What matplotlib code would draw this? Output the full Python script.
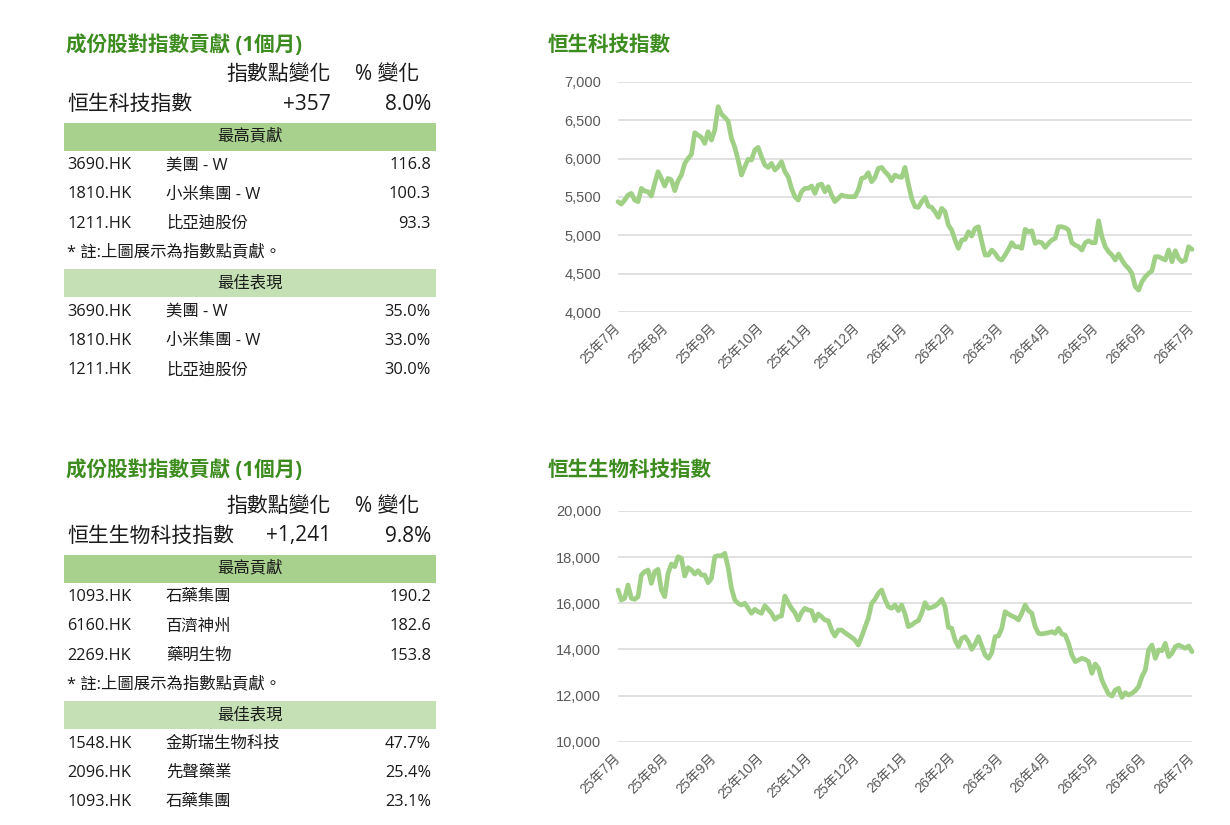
import matplotlib
matplotlib.use("Agg")
import matplotlib.pyplot as plt
from matplotlib.patches import Rectangle
import numpy as np

plt.rcParams['font.family'] = ['Open Sans', 'Noto Sans CJK TC', 'DejaVu Sans']

# ---------------- data ----------------
month_labels = ["25年7月", "25年8月", "25年9月", "25年10月", "25年11月", "25年12月",
                "26年1月", "26年2月", "26年3月", "26年4月", "26年5月", "26年6月", "26年7月"]

hstech = [
    5439, 5408, 5460, 5525, 5547, 5460, 5439, 5612, 5577, 5569,
    5512, 5677, 5829, 5742, 5643, 5742, 5721, 5582, 5712, 5786,
    5937, 6002, 6054, 6336, 6306, 6276, 6198, 6349, 6241, 6371,
    6675, 6579, 6536, 6488, 6263, 6146, 5981, 5786, 5894, 5990,
    5981, 6111, 6146, 6024, 5916, 5885, 5937, 5851, 5894, 5959,
    5829, 5764, 5612, 5504, 5460, 5569, 5612, 5612, 5643, 5547,
    5655, 5668, 5569, 5634, 5525, 5439, 5482, 5525, 5512, 5504,
    5504, 5504, 5590, 5742, 5755, 5816, 5699, 5755, 5872,
    5885, 5829, 5786, 5712, 5786, 5764, 5755, 5885, 5668, 5482,
    5374, 5365, 5439, 5495, 5382, 5365, 5309, 5235, 5352, 5309,
    5135, 5070, 4940, 4832, 4940, 4949, 5048, 4992, 5092, 5113,
    4918, 4745, 4745, 4810, 4767, 4701, 4680, 4745, 4818, 4905,
    4853, 4853, 4832, 5079, 5048, 5061, 4897, 4918, 4905, 4844,
    4897, 4940, 4962, 5113, 5113, 5100, 5070, 4905, 4875, 4853,
    4810, 4905, 4931, 4905, 4905, 5191, 4983, 4853, 4788, 4745,
    4680, 4758, 4680, 4615, 4571, 4506, 4333, 4289, 4398, 4463,
    4506, 4541, 4723, 4723, 4701, 4680, 4810, 4658, 4801, 4701,
    4658, 4680, 4853, 4818,
]

hsbio = [
    16575, 16142, 16214, 16792, 16214, 16171, 16286, 17226, 17370, 17442,
    16864, 17370, 17471, 16575, 16286, 17298, 17702, 17587, 18020, 17948,
    17182, 17544, 17442, 17269, 17413, 17226, 17226, 16893, 17081, 18020,
    18064, 18049, 18165, 17558, 16648, 16142, 15998, 15925, 15998, 15781,
    15564, 15737, 15636, 15564, 15896, 15737, 15564, 15304, 15419, 15448,
    16315, 16026, 15781, 15593, 15275, 15593, 15781, 15708, 15679, 15246,
    15535, 15419, 15275, 15246, 14841, 14581, 14841, 14841, 14726, 14625,
    14524, 14408, 14191, 14552, 14957, 15347, 15998, 16171, 16431,
    16575, 16171, 15853, 15781, 15925, 15680, 15925, 15535, 14986, 15058,
    15174, 15246, 15564, 16026, 15781, 15824, 15882, 15998, 16171, 15853,
    14957, 14914, 14408, 14119, 14480, 14552, 14336, 14003, 14234, 14552,
    14148, 13758, 13613, 13859, 14552, 14581, 14914, 15636, 15535, 15448,
    15390, 15275, 15564, 15925, 15680, 15564, 14986, 14697, 14668, 14697,
    14726, 14769, 14697, 14914, 14668, 14625, 14263, 13758, 13469, 13541,
    13613, 13570, 13469, 12963, 13368, 13180, 12674, 12356, 12067, 11980,
    12240, 12313, 11922, 12125, 12024, 12096, 12211, 12385, 12819, 13107,
    13974, 14191, 13613, 13974, 13945, 14263, 13685, 13830, 14119, 14191,
    14119, 14047, 14148, 13902,
]

tables = [
    dict(title="成份股對指數貢獻 (1個月)", index_name="恒生科技指數", pts="+357", pct="8.0%",
         top_codes=["3690.HK", "1810.HK", "1211.HK"],
         top_names=["美團 - W", "小米集團 - W", "比亞迪股份"],
         top_vals=["116.8", "100.3", "93.3"],
         best_codes=["3690.HK", "1810.HK", "1211.HK"],
         best_names=["美團 - W", "小米集團 - W", "比亞迪股份"],
         best_vals=["35.0%", "33.0%", "30.0%"]),
    dict(title="成份股對指數貢獻 (1個月)", index_name="恒生生物科技指數", pts="+1,241", pct="9.8%",
         top_codes=["1093.HK", "6160.HK", "2269.HK"],
         top_names=["石藥集團", "百濟神州", "藥明生物"],
         top_vals=["190.2", "182.6", "153.8"],
         best_codes=["1548.HK", "2096.HK", "1093.HK"],
         best_names=["金斯瑞生物科技", "先聲藥業", "石藥集團"],
         best_vals=["47.7%", "25.4%", "23.1%"]),
]

chart_titles = ["恒生科技指數", "恒生生物科技指數"]
series = [hstech, hsbio]
ylims = [(4000, 7000, 500), (10000, 20000, 2000)]

# ---------------- style ----------------
W, H = 1230, 825
GREEN_TITLE = "#3d8c1f"
BAR1 = "#a9d18e"
BAR2 = "#c5e0b4"
LINE = "#9fd086"
GRID = "#d9d9d9"
TICK = "#595959"
TXT = "#1a1a1a"

fig = plt.figure(figsize=(W / 100, H / 100), dpi=100)
fig.patch.set_facecolor("white")


def fx(x):
    return x / W


def fy(y):
    return 1 - y / H


def txt(x, y, s, size, ha="left", color=TXT, weight="normal"):
    return fig.text(fx(x), fy(y), s, fontsize=size, ha=ha, va="center", color=color,
                    fontweight=weight)


ROW = 11.8
HEAD = 15
title_y = [45, 470]
offsets = [0, 432]
for t, ty, off in zip(tables, title_y, offsets):
    txt(66, ty, t["title"], 14.8, color=GREEN_TITLE, weight="bold")
    txt(331, 75 + off, "指數點變化", HEAD, ha="right")
    txt(419, 75 + off, "% 變化", HEAD, ha="right")
    txt(67, 104 + off, t["index_name"], HEAD)
    txt(331, 104 + off, t["pts"], HEAD, ha="right")
    txt(431, 104 + off, t["pct"], HEAD, ha="right")
    fig.patches.append(Rectangle((fx(64), fy(150.7 + off)), fx(436) - fx(64),
                                 (150.7 - 122.7) / H, transform=fig.transFigure,
                                 facecolor=BAR1, edgecolor="none"))
    txt(250, 136.5 + off, "最高貢獻", ROW, ha="center")
    for i, ry in enumerate([165, 194.5, 224]):
        txt(67, ry + off, t["top_codes"][i], ROW)
        txt(166, ry + off, t["top_names"][i], ROW)
        txt(431, ry + off, t["top_vals"][i], ROW, ha="right")
    txt(67, 252 + off, "* 註:上圖展示為指數點貢獻。", ROW)
    fig.patches.append(Rectangle((fx(64), fy(297.3 + off)), fx(436) - fx(64),
                                 (297.3 - 269) / H, transform=fig.transFigure,
                                 facecolor=BAR2, edgecolor="none"))
    txt(250, 283 + off, "最佳表現", ROW, ha="center")
    for i, ry in enumerate([311.7, 341, 370.3]):
        txt(67, ry + off, t["best_codes"][i], ROW)
        txt(166, ry + off, t["best_names"][i], ROW)
        txt(431, ry + off, t["best_vals"][i], ROW, ha="right")

# ---------------- charts ----------------
axes_px = [(81.7, 312.3), (511.0, 741.7)]
for k in range(2):
    top, bot = axes_px[k]
    ax = fig.add_axes([fx(618), fy(bot), fx(1192) - fx(618), (bot - top) / H])
    vals = series[k]
    x = np.arange(len(vals))
    ax.plot(x, vals, color=LINE, lw=3.4, solid_joinstyle="round", solid_capstyle="round",
            clip_on=False)
    lo, hi, step = ylims[k]
    ax.set_ylim(lo, hi)
    ax.set_yticks(np.arange(lo, hi + 1, step))
    ax.yaxis.set_major_formatter(matplotlib.ticker.FuncFormatter(lambda v, p: f"{int(v):,}"))
    ax.set_xlim(0, len(vals) - 1)
    ax.set_xticks(np.linspace(0, len(vals) - 1, len(month_labels)))
    ax.set_xticklabels(month_labels, rotation=45, ha="right", va="center",
                       rotation_mode="anchor", fontsize=9.8, color=TICK,
                       family=["Liberation Sans", "Noto Sans CJK TC"])
    for lab in ax.get_yticklabels():
        lab.set_family(["Liberation Sans", "DejaVu Sans"])
        lab.set_fontsize(10.5)
        lab.set_color(TICK)
    ax.tick_params(axis="both", length=0)
    ax.tick_params(axis="y", pad=12)
    ax.tick_params(axis="x", pad=10)
    ax.grid(axis="y", color=GRID, lw=1.1)
    ax.set_axisbelow(True)
    for s in ax.spines.values():
        s.set_visible(False)
    txt(548, title_y[k], chart_titles[k], 14.8, color=GREEN_TITLE, weight="bold")

fig.savefig("out.png", dpi=100, facecolor="white")
